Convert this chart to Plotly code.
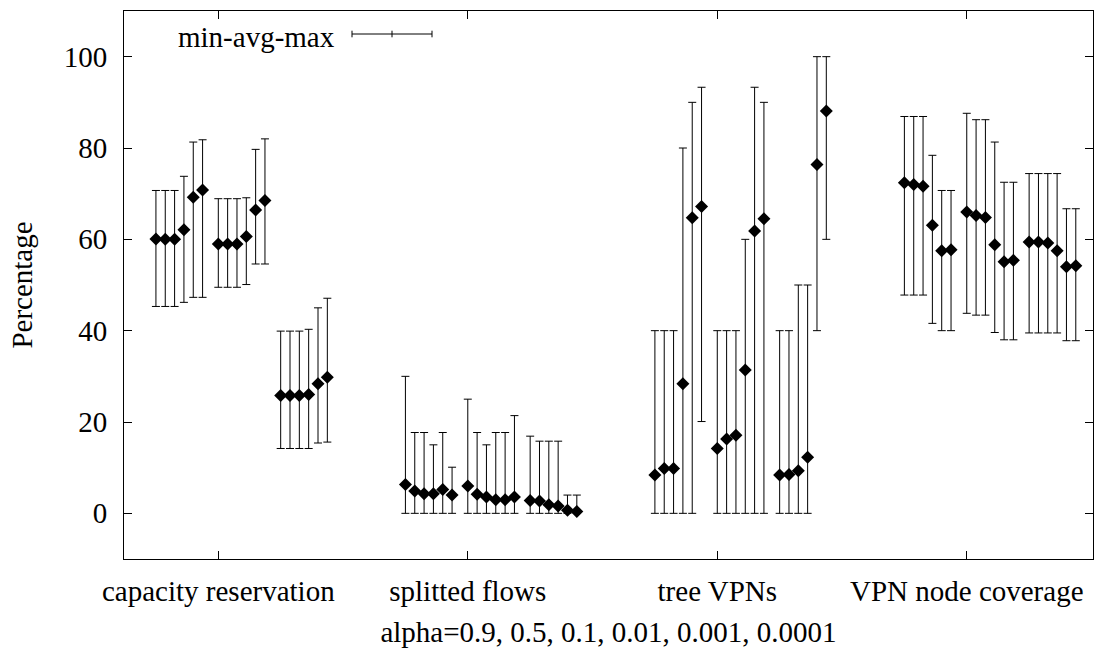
import plotly.graph_objects as go

categories = ["capacity reservation", "splitted flows", "tree VPNs", "VPN node coverage"]
alphas = ["0.9", "0.5", "0.1", "0.01", "0.001", "0.0001"]

# each category: 3 sub-groups x 6 alpha values
cap_avg = [60.1, 60.0, 60.0, 62.1, 69.2, 70.8,
           59.0, 59.0, 59.0, 60.6, 66.4, 68.5,
           25.8, 25.8, 25.8, 26.0, 28.4, 29.8]
cap_min = [45.3, 45.3, 45.3, 46.2, 47.3, 47.3,
           49.5, 49.5, 49.5, 50.1, 54.6, 54.6,
           14.2, 14.2, 14.2, 14.2, 15.4, 15.6]
cap_max = [70.7, 70.7, 70.7, 73.8, 81.3, 81.8,
           68.9, 68.9, 68.9, 69.1, 79.7, 82.0,
           39.9, 39.9, 39.9, 40.3, 45.0, 47.1]

spl_avg = [6.3, 4.9, 4.3, 4.3, 5.2, 4.0,
           6.0, 4.2, 3.6, 3.0, 3.0, 3.6,
           2.8, 2.7, 1.9, 1.6, 0.7, 0.4]
spl_min = [0.0, 0.0, 0.0, 0.0, 0.0, 0.0,
           0.0, 0.0, 0.0, 0.0, 0.0, 0.0,
           0.0, 0.0, 0.0, 0.0, 0.0, 0.0]
spl_max = [30.0, 17.7, 17.7, 15.0, 17.7, 10.1,
           25.0, 17.7, 15.0, 17.7, 17.7, 21.4,
           16.9, 15.8, 15.8, 15.8, 4.0, 4.0]

tree_avg = [8.4, 9.8, 9.8, 28.4, 64.7, 67.2,
            14.2, 16.3, 17.1, 31.4, 61.8, 64.5,
            8.4, 8.5, 9.3, 12.3, 76.4, 88.1]
tree_min = [0.0, 0.0, 0.0, 0.0, 0.0, 20.1,
            0.0, 0.0, 0.0, 0.0, 0.0, 0.0,
            0.0, 0.0, 0.0, 0.0, 40.0, 60.0]
tree_max = [40.0, 40.0, 40.0, 80.0, 90.0, 93.3,
            40.0, 40.0, 40.0, 60.0, 93.3, 90.0,
            40.0, 40.0, 50.0, 50.0, 100.0, 100.0]

cov_avg = [72.4, 72.0, 71.6, 63.1, 57.5, 57.7,
           66.0, 65.2, 64.8, 58.8, 55.1, 55.4,
           59.4, 59.4, 59.2, 57.5, 54.0, 54.2]
cov_min = [47.8, 47.8, 47.8, 41.6, 40.0, 40.0,
           43.8, 43.4, 43.4, 39.6, 38.0, 38.0,
           39.5, 39.5, 39.5, 39.5, 37.8, 37.8]
cov_max = [86.9, 86.9, 86.9, 78.4, 70.7, 70.7,
           87.6, 86.2, 86.2, 81.3, 72.5, 72.5,
           74.4, 74.4, 74.4, 74.4, 66.7, 66.7]

avg_all = [cap_avg, spl_avg, tree_avg, cov_avg]
min_all = [cap_min, spl_min, tree_min, cov_min]
max_all = [cap_max, spl_max, tree_max, cov_max]

# layout of points within each category
SUB_OFF = 0.25
STEP = 0.0374

xs, ys, ep, em = [], [], [], []
for ci in range(len(categories)):
    for k in range(3):
        for j in range(len(alphas)):
            idx = k * len(alphas) + j
            xs.append(ci + 1 + (k - 1) * SUB_OFF + j * STEP)
            a = avg_all[ci][idx]
            ys.append(a)
            ep.append(max_all[ci][idx] - a)
            em.append(a - min_all[ci][idx])

FONT = "Liberation Serif, Times New Roman, serif"
FS = 29

fig = go.Figure()
fig.add_trace(go.Scatter(
    x=xs, y=ys, mode="markers", name="min-avg-max",
    marker=dict(symbol="diamond", size=10, color="black"),
    error_y=dict(type="data", symmetric=False, array=ep, arrayminus=em,
                 color="black", thickness=1, width=4),
    showlegend=False,
))

W, H = 1096, 648
L, R, T, B = 124, 3, 11, 89
pw, ph = W - L - R, H - T - B

def px(x):
    return (x - L) / pw

def py(y):
    return (H - B - y) / ph

# legend key (gnuplot style)
key_y = py(34)
x0, x1, xm = px(352), px(432), px(392)
cap = 3.3 / ph
shapes = [
    dict(type="line", xref="paper", yref="paper", x0=x0, x1=x1, y0=key_y, y1=key_y,
         line=dict(color="black", width=1)),
    dict(type="line", xref="paper", yref="paper", x0=x0, x1=x0, y0=key_y - cap, y1=key_y + cap,
         line=dict(color="black", width=1)),
    dict(type="line", xref="paper", yref="paper", x0=x1, x1=x1, y0=key_y - cap, y1=key_y + cap,
         line=dict(color="black", width=1)),
    dict(type="line", xref="paper", yref="paper", x0=xm, x1=xm, y0=key_y - cap, y1=key_y + cap,
         line=dict(color="black", width=1)),
]

fig.update_layout(
    width=W, height=H,
    margin=dict(l=L, r=R, t=T, b=B),
    paper_bgcolor="white", plot_bgcolor="white",
    font=dict(family=FONT, size=FS, color="black"),
    shapes=shapes,
    annotations=[dict(text="min-avg-max", xref="paper", yref="paper",
                      x=px(337), y=py(37), xanchor="right", yanchor="middle",
                      showarrow=False, font=dict(family=FONT, size=FS, color="black"))],
)
fig.update_xaxes(
    range=[0.622, 4.506], tickvals=[1, 2, 3, 4], ticktext=categories,
    ticks="inside", ticklen=8, tickcolor="black", tickwidth=1,
    showline=True, linecolor="black", linewidth=1, mirror="ticks",
    showgrid=False, zeroline=False,
    ticklabelstandoff=6,
    title=dict(text="alpha=" + ", ".join(alphas), standoff=15,
               font=dict(family=FONT, size=FS, color="black")),
)
fig.update_yaxes(
    range=[-10, 110], tickvals=[0, 20, 40, 60, 80, 100],
    ticks="inside", ticklen=8, tickcolor="black", tickwidth=1,
    showline=True, linecolor="black", linewidth=1, mirror="ticks",
    showgrid=False, zeroline=False,
    ticklabelstandoff=10,
    title=dict(text="Percentage", standoff=22,
               font=dict(family=FONT, size=FS, color="black")),
)

fig.write_html("out.html")
